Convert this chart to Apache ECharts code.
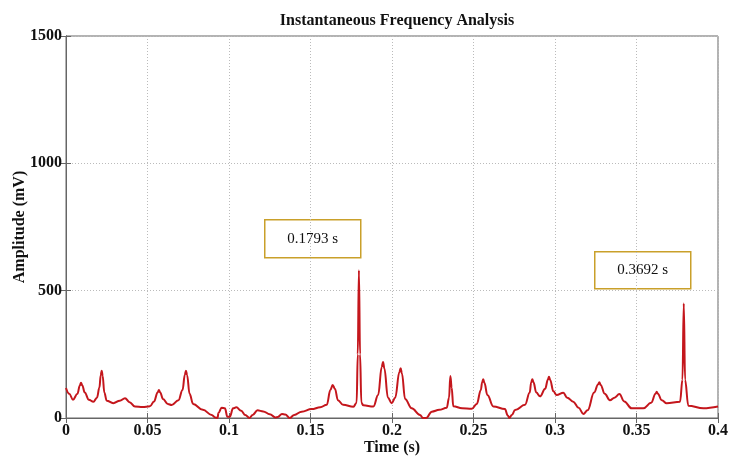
<!DOCTYPE html>
<html>
<head>
<meta charset="utf-8">
<script src="https://cdn.jsdelivr.net/npm/echarts@6/dist/echarts.min.js"></script>
<style>html,body{margin:0;padding:0;background:#fff}#c{width:729px;height:457px}</style>
</head>
<body>
<div id="c"></div>
<script>
const timeS = [0.000,0.002,0.0043,0.007,0.0085,0.0092,0.0100,0.0115,0.014,0.0168,0.019,0.0205,0.0213,0.0219,0.0225,0.0235,0.025,0.029,0.033,0.0362,0.039,0.0423,0.047,0.0515,0.054,0.0562,0.057,0.0578,0.0595,0.0625,0.0648,0.069,0.0715,0.0729,0.0736,0.0743,0.0758,0.078,0.084,0.0894,0.0915,0.093,0.0935,0.0955,0.0975,0.099,0.1005,0.1025,0.1045,0.1075,0.110,0.1125,0.1145,0.1175,0.121,0.125,0.1285,0.130,0.1325,0.1345,0.1372,0.140,0.1446,0.1507,0.156,0.160,0.1622,0.1636,0.1650,0.1668,0.170,0.1763,0.1783,0.1790,0.1797,0.1804,0.1812,0.1824,0.1886,0.1915,0.1937,0.1945,0.1953,0.1975,0.1998,0.202,0.2045,0.2053,0.2061,0.208,0.2121,0.2172,0.219,0.221,0.2244,0.229,0.2336,0.2350,0.2358,0.2366,0.2376,0.243,0.2489,0.252,0.2545,0.2553,0.256,0.2567,0.2585,0.2622,0.2693,0.271,0.272,0.2735,0.2755,0.2816,0.2845,0.2854,0.2861,0.2868,0.2885,0.2908,0.294,0.2956,0.2963,0.2970,0.299,0.301,0.3051,0.3075,0.3112,0.3145,0.3174,0.320,0.324,0.3264,0.3272,0.3280,0.3305,0.3337,0.3365,0.3395,0.3425,0.347,0.3542,0.359,0.3617,0.3624,0.3631,0.3655,0.3685,0.3767,0.3782,0.3790,0.3798,0.3818,0.391,0.400];
const amplitudeMV = [118,95,72,95,128,138,128,100,72,64,80,120,168,186,165,100,68,58,68,78,62,45,43,46,65,100,110,100,75,55,51,70,110,170,186,168,95,55,32,12,2,0,20,40,38,5,5,38,42,28,12,0,12,30,26,15,2,4,16,14,0,12,25,35,42,52,110,130,115,70,52,44,60,250,580,250,60,50,45,90,200,220,195,80,58,80,180,195,175,75,38,12,0,0,25,32,40,80,165,120,46,38,36,55,110,140,152,138,90,45,35,10,0,12,31,52,100,140,152,140,100,85,115,150,162,150,105,90,99,80,64,40,16,30,100,132,140,130,95,70,80,94,65,38,38,60,95,103,95,70,58,64,150,450,150,48,38,45];
const annotations = ['0.1793 s', '0.3692 s'];

const series = timeS.map((t, i) => [t, amplitudeMV[i]]);
const serif = 'Liberation Serif';
const chart = echarts.init(document.getElementById('c'), null, {renderer: 'canvas'});
function annBox(x, y, w, h, txt) {
  return {
    type: 'group', left: x, top: y,
    children: [
      {type: 'rect', shape: {x: 0, y: 0, width: w, height: h}, style: {fill: '#fff', stroke: '#c9a02a', lineWidth: 1.5}},
      {type: 'text', x: w / 2, y: h / 2, style: {text: txt, fill: '#111', font: '15px "Liberation Serif"', align: 'center', verticalAlign: 'middle'}}
    ]
  };
}
chart.setOption({
  animation: false,
  backgroundColor: '#fff',
  title: {
    text: 'Instantaneous Frequency Analysis', left: 392, top: 8, textAlign: 'center',
    textStyle: {fontFamily: serif, fontWeight: 'bold', fontSize: 16, color: '#111'}
  },
  grid: {left: 66, right: 11, top: 36, bottom: 39, containLabel: false, outerBoundsMode: 'none',
    show: true, borderColor: '#666', borderWidth: 1, backgroundColor: 'transparent'},
  xAxis: [{
    type: 'value', min: 0, max: 0.4, interval: 0.05,
    name: 'Time (s)', nameLocation: 'middle', nameGap: 22, nameMoveOverlap: false,
    nameTextStyle: {fontFamily: serif, fontWeight: 'bold', fontSize: 16, color: '#111'},
    axisLine: {show: true, onZero: false, lineStyle: {color: '#666'}},
    axisTick: {show: true, inside: true, length: 5, lineStyle: {color: '#666'}},
    axisLabel: {margin: 5, fontFamily: serif, fontWeight: 'bold', fontSize: 16, color: '#111',
      formatter: v => String(+v.toFixed(2))},
    splitLine: {show: true, lineStyle: {color: '#bbb', type: [1, 2], width: 1}}
  }, {
    type: 'value', min: 0, max: 0.4, interval: 0.05, position: 'top',
    axisLine: {show: true, lineStyle: {color: '#666'}},
    axisTick: {show: true, inside: true, length: 5, lineStyle: {color: '#666'}},
    axisLabel: {show: false}, splitLine: {show: false}
  }],
  yAxis: [{
    type: 'value', min: 0, max: 1500, interval: 500,
    name: 'Amplitude (mV)', nameLocation: 'middle', nameGap: 38, nameMoveOverlap: false,
    nameTextStyle: {fontFamily: serif, fontWeight: 'bold', fontSize: 16, color: '#111'},
    axisLine: {show: true, lineStyle: {color: '#666'}},
    axisTick: {show: true, inside: true, length: 5, lineStyle: {color: '#666'}},
    axisLabel: {margin: 4, fontFamily: serif, fontWeight: 'bold', fontSize: 16, color: '#111',
      formatter: v => String(v)},
    splitLine: {show: true, lineStyle: {color: '#bbb', type: [1, 2], width: 1}}
  }, {
    type: 'value', min: 0, max: 1500, interval: 500, position: 'right',
    axisLine: {show: true, lineStyle: {color: '#666'}},
    axisTick: {show: true, inside: true, length: 5, lineStyle: {color: '#666'}},
    axisLabel: {show: false}, splitLine: {show: false}
  }],
  series: [{
    type: 'line', data: series, showSymbol: false, smooth: 0.4, smoothMonotone: 'x',
    lineStyle: {color: '#c4161c', width: 2}, itemStyle: {color: '#c4161c'}, z: 3
  }],
  graphic: [annBox(264, 219, 96, 38, annotations[0]), annBox(594, 251, 96, 37, annotations[1])]
});
</script>
</body>
</html>
